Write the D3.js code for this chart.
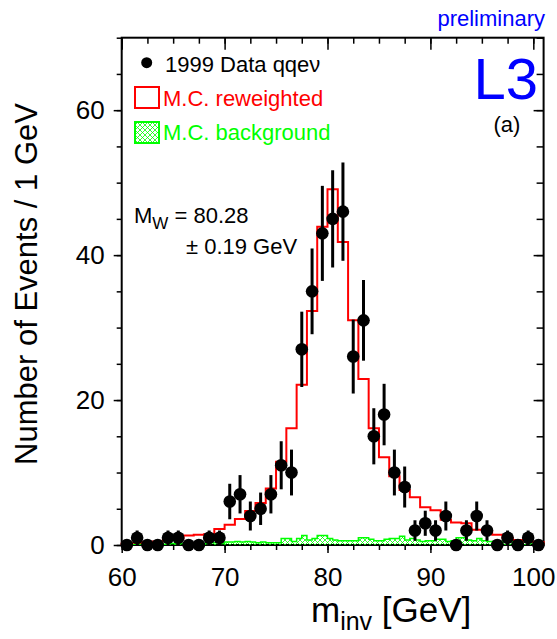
<!DOCTYPE html>
<html>
<head>
<meta charset="utf-8">
<script src="https://cdn.jsdelivr.net/npm/d3@7"></script>
<style>
  body { margin: 0; background: #fff; }
  svg { font-family: "Liberation Sans", Arial, Helvetica, sans-serif; }
</style>
</head>
<body>
<svg id="chart" width="557" height="639"></svg>
<script>
// 1 GeV bins, lower edges 60 .. 100
const binEdges = d3.range(60, 101);
const dataCounts = [0, 1, 0, 0, 1, 1, 0, 0, 1, 1,
  6, 7, 4, 5, 7, 11, 10, 27, 35, 43,
  45, 46, 26, 31, 15, 18, 10, 8, 2, 3,
  2, 4, 0, 2, 4, 2, 0, 1, 0, 1, 0];
const mcReweighted = [0.2, 0.3, 0.4, 0.5, 0.7, 0.9, 1.3, 1.4, 1.5, 2.2,
  2.8, 3.6, 4.7, 5.8, 7.8, 11.5, 16.1, 22.1, 32.3, 43.9,
  49.1, 41.8, 31.0, 22.9, 16.1, 12.1, 9.5, 7.6, 6.6, 5.2,
  4.8, 3.5, 3.1, 3.0, 2.1, 1.9, 1.4, 1.0, 0.7, 0.5, 0.4];

// background is in 0.5 GeV bins
const bgEdges = d3.range(60, 101, 0.5);
const mcBackground = [0.1, 0.1, 0.1, 0.2, 0.1, 0.1, 0.2, 0.1, 0.1, 0.2,
  0.2, 0.2, 0.2, 0.1, 0.2, 0.2, 0.2, 0.3, 0.3, 0.2,
  0.4, 0.4, 0.5, 0.4, 0.5, 0.4, 0.3, 0.4, 0.3, 0.3,
  0.3, 0.9, 0.9, 0.5, 0.9, 1.3, 0.7, 0.9, 1.3, 1.3,
  0.9, 0.7, 0.6, 0.6, 0.6, 0.6, 1.0, 1.0, 0.8, 0.6,
  0.6, 0.8, 0.9, 0.9, 1.2, 0.7, 0.9, 0.7, 0.5, 0.6,
  0.6, 0.8, 0.8, 0.5, 0.6, 1.0, 1.0, 0.7, 0.6, 0.9,
  0.6, 0.5, 0.5, 0.5, 0.4, 0.6, 0.3, 0.4, 0.4, 0.3,
  0.2, 0.2];

const xMajor = [60, 70, 80, 90, 100];
const xMinor = d3.range(60, 101, 2.5);
const yMajor = [0, 20, 40, 60];
const yMinor = d3.range(0, 71, 5);

const svg = d3.select("#chart");
const plotL = 121.7, plotR = 543.6, plotT = 37.7, plotB = 545;

const x = d3.scaleLinear().domain([60, 101]).range([plotL, plotR]);
const y = d3.scaleLinear().domain([0, 70]).range([plotB, plotT]);

// hatch for the background histogram
const pat = svg.append("defs").append("pattern")
  .attr("id", "hatch")
  .attr("patternUnits", "userSpaceOnUse")
  .attr("width", 5).attr("height", 5);
pat.append("path").attr("d", "M0,0L5,5M5,0L0,5")
  .attr("stroke", "#00ff00").attr("stroke-width", 0.8);

// frame
svg.append("rect")
  .attr("x", plotL).attr("y", plotT)
  .attr("width", plotR - plotL).attr("height", plotB - plotT)
  .attr("fill", "none").attr("stroke", "#000").attr("stroke-width", 2);

function addAxis(axis, tx, ty) {
  const g = svg.append("g").attr("transform", `translate(${tx},${ty})`).call(axis);
  g.select(".domain").remove();
  g.selectAll("line").attr("stroke", "#000").attr("stroke-width", 1.5);
  g.selectAll("text").attr("font-size", 26).attr("fill", "#000")
    .attr("font-family", "\"Liberation Sans\", Arial, sans-serif");
  return g;
}

addAxis(d3.axisBottom(x).tickValues(xMinor).tickSize(5).tickFormat(""), 0, plotB);
addAxis(d3.axisBottom(x).tickValues(xMajor).tickSize(8).tickPadding(15), 0, plotB);
addAxis(d3.axisTop(x).tickValues(xMinor).tickSize(-6).tickFormat(""), 0, plotT);
addAxis(d3.axisTop(x).tickValues(xMajor).tickSize(-12).tickFormat(""), 0, plotT);
addAxis(d3.axisLeft(y).tickValues(yMinor).tickSize(5).tickFormat(""), plotL, 0);
addAxis(d3.axisLeft(y).tickValues(yMajor).tickSize(8).tickPadding(9), plotL, 0);
addAxis(d3.axisRight(y).tickValues(yMinor).tickSize(-7).tickFormat(""), plotR, 0);
addAxis(d3.axisRight(y).tickValues(yMajor).tickSize(-10).tickFormat(""), plotR, 0);

// step outline from bin edges
function stepPoints(edges, vals, width) {
  const pts = [[edges[0], 0]];
  edges.forEach((e, i) => pts.push([e, vals[i]]));
  const last = edges[edges.length - 1] + width;
  pts.push([last, vals[vals.length - 1]]);
  pts.push([last, 0]);
  return pts;
}
const stepLine = d3.line().x(d => x(d[0])).y(d => y(d[1])).curve(d3.curveStepAfter);

// M.C. background (hatched)
const bgPts = stepPoints(bgEdges, mcBackground, 0.5);
svg.append("path").attr("d", stepLine(bgPts) + "Z")
  .attr("fill", "url(#hatch)").attr("stroke", "none");
svg.append("path").attr("d", stepLine(bgPts))
  .attr("fill", "none").attr("stroke", "#00ff00").attr("stroke-width", 1.5);

// M.C. reweighted
svg.append("path").attr("d", stepLine(stepPoints(binEdges, mcReweighted, 1)))
  .attr("fill", "none").attr("stroke", "#ff0000").attr("stroke-width", 2);

// data points with sqrt(N) errors
const pts = binEdges.map((e, i) => ({ m: e + 0.5, n: dataCounts[i], err: Math.sqrt(dataCounts[i]) }));
svg.append("g").selectAll("line").data(pts.filter(d => d.n > 0)).enter()
  .append("line")
  .attr("x1", d => x(d.m)).attr("x2", d => x(d.m))
  .attr("y1", d => y(d.n - d.err)).attr("y2", d => y(d.n + d.err))
  .attr("stroke", "#000").attr("stroke-width", 3);
svg.append("g").selectAll("circle").data(pts).enter()
  .append("circle")
  .attr("cx", d => x(d.m)).attr("cy", d => y(d.n))
  .attr("r", 6.3).attr("fill", "#000");

// legend
svg.append("circle").attr("cx", 146.7).attr("cy", 62.7).attr("r", 5.5).attr("fill", "#000");
svg.append("text").attr("x", 165).attr("y", 72).attr("font-size", 22).text("1999 Data qqeν");
svg.append("rect").attr("x", 135).attr("y", 87).attr("width", 24).attr("height", 21)
  .attr("fill", "#fff").attr("stroke", "#ff0000").attr("stroke-width", 2);
svg.append("text").attr("x", 163).attr("y", 106).attr("font-size", 22).attr("fill", "#ff0000")
  .text("M.C. reweighted");
svg.append("rect").attr("x", 135).attr("y", 122).attr("width", 24).attr("height", 21)
  .attr("fill", "url(#hatch)").attr("stroke", "#00ff00").attr("stroke-width", 2);
svg.append("text").attr("x", 163).attr("y", 140).attr("font-size", 22).attr("fill", "#00ff00")
  .text("M.C. background");

// labels
svg.append("text").attr("x", 545).attr("y", 26).attr("text-anchor", "end")
  .attr("font-size", 22).attr("fill", "#0000ff").text("preliminary");
svg.append("text").attr("x", 538).attr("y", 99).attr("text-anchor", "end")
  .attr("font-size", 58).attr("fill", "#0000ff").text("L3");
svg.append("text").attr("x", 507).attr("y", 132).attr("text-anchor", "middle")
  .attr("font-size", 22).text("(a)");

const mw = svg.append("text").attr("x", 134).attr("y", 223).attr("font-size", 22);
mw.append("tspan").text("M");
mw.append("tspan").attr("font-size", 17).attr("dy", 6).text("W");
mw.append("tspan").attr("dy", -6).text(" = 80.28");
svg.append("text").attr("x", 186).attr("y", 254).attr("font-size", 22).text("± 0.19 GeV");

// axis titles
svg.append("text")
  .attr("transform", "translate(37,284) rotate(-90)")
  .attr("text-anchor", "middle").attr("font-size", 31)
  .text("Number of Events / 1 GeV");
const xt = svg.append("text").attr("x", 311).attr("y", 622).attr("font-size", 35);
xt.append("tspan").text("m");
xt.append("tspan").attr("font-size", 25).attr("dy", 8).text("inv");
xt.append("tspan").attr("dy", -8).text(" [GeV]");
</script>
</body>
</html>
